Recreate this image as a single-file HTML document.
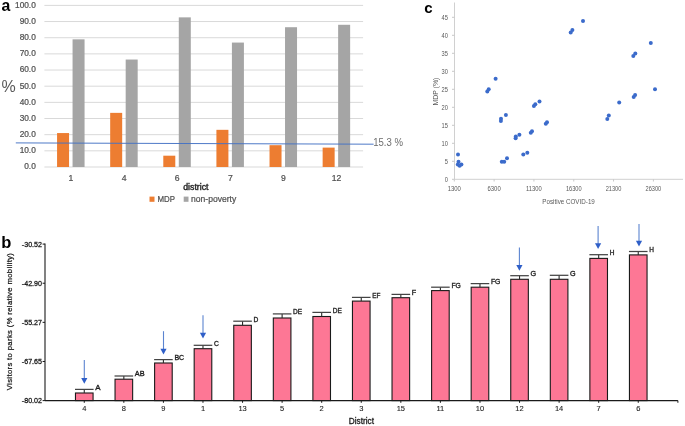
<!DOCTYPE html>
<html><head><meta charset="utf-8"><style>
html,body{margin:0;padding:0;background:#fff;width:685px;height:426px;overflow:hidden}
svg{display:block;font-family:"Liberation Sans", sans-serif;filter:blur(0.35px)}
</style></head><body>
<svg width="685" height="426" viewBox="0 0 685 426">
<rect width="685" height="426" fill="#fff"/>
<line x1="44.4" y1="167.00" x2="363.1" y2="167.00" stroke="#d9d9d9" stroke-width="1"/>
<line x1="44.4" y1="150.84" x2="363.1" y2="150.84" stroke="#d9d9d9" stroke-width="1"/>
<line x1="44.4" y1="134.68" x2="363.1" y2="134.68" stroke="#d9d9d9" stroke-width="1"/>
<line x1="44.4" y1="118.52" x2="363.1" y2="118.52" stroke="#d9d9d9" stroke-width="1"/>
<line x1="44.4" y1="102.36" x2="363.1" y2="102.36" stroke="#d9d9d9" stroke-width="1"/>
<line x1="44.4" y1="86.20" x2="363.1" y2="86.20" stroke="#d9d9d9" stroke-width="1"/>
<line x1="44.4" y1="70.04" x2="363.1" y2="70.04" stroke="#d9d9d9" stroke-width="1"/>
<line x1="44.4" y1="53.88" x2="363.1" y2="53.88" stroke="#d9d9d9" stroke-width="1"/>
<line x1="44.4" y1="37.72" x2="363.1" y2="37.72" stroke="#d9d9d9" stroke-width="1"/>
<line x1="44.4" y1="21.56" x2="363.1" y2="21.56" stroke="#d9d9d9" stroke-width="1"/>
<line x1="44.4" y1="5.40" x2="363.1" y2="5.40" stroke="#d9d9d9" stroke-width="1"/>
<text x="35.80" y="169.30" font-size="8.3" fill="#505050" text-anchor="end" font-weight="normal" stroke="#505050" stroke-width="0.22">0.0</text>
<text x="35.80" y="153.14" font-size="8.3" fill="#505050" text-anchor="end" font-weight="normal" stroke="#505050" stroke-width="0.22">10.0</text>
<text x="35.80" y="136.98" font-size="8.3" fill="#505050" text-anchor="end" font-weight="normal" stroke="#505050" stroke-width="0.22">20.0</text>
<text x="35.80" y="120.82" font-size="8.3" fill="#505050" text-anchor="end" font-weight="normal" stroke="#505050" stroke-width="0.22">30.0</text>
<text x="35.80" y="104.66" font-size="8.3" fill="#505050" text-anchor="end" font-weight="normal" stroke="#505050" stroke-width="0.22">40.0</text>
<text x="35.80" y="88.50" font-size="8.3" fill="#505050" text-anchor="end" font-weight="normal" stroke="#505050" stroke-width="0.22">50.0</text>
<text x="35.80" y="72.34" font-size="8.3" fill="#505050" text-anchor="end" font-weight="normal" stroke="#505050" stroke-width="0.22">60.0</text>
<text x="35.80" y="56.18" font-size="8.3" fill="#505050" text-anchor="end" font-weight="normal" stroke="#505050" stroke-width="0.22">70.0</text>
<text x="35.80" y="40.02" font-size="8.3" fill="#505050" text-anchor="end" font-weight="normal" stroke="#505050" stroke-width="0.22">80.0</text>
<text x="35.80" y="23.86" font-size="8.3" fill="#505050" text-anchor="end" font-weight="normal" stroke="#505050" stroke-width="0.22">90.0</text>
<text x="35.80" y="7.70" font-size="8.3" fill="#505050" text-anchor="end" font-weight="normal" stroke="#505050" stroke-width="0.22">100.0</text>
<text x="1.50" y="91.50" font-size="16" fill="#595959" text-anchor="start" font-weight="normal" >%</text>
<rect x="57.06" y="133.06" width="12" height="33.94" fill="#ed7d31"/>
<rect x="72.56" y="39.34" width="12" height="127.66" fill="#a5a5a5"/>
<text x="70.96" y="181.30" font-size="8.6" fill="#505050" text-anchor="middle" font-weight="normal" stroke="#505050" stroke-width="0.22">1</text>
<rect x="110.18" y="112.86" width="12" height="54.14" fill="#ed7d31"/>
<rect x="125.68" y="59.54" width="12" height="107.46" fill="#a5a5a5"/>
<text x="124.08" y="181.30" font-size="8.6" fill="#505050" text-anchor="middle" font-weight="normal" stroke="#505050" stroke-width="0.22">4</text>
<rect x="163.29" y="155.69" width="12" height="11.31" fill="#ed7d31"/>
<rect x="178.79" y="17.36" width="12" height="149.64" fill="#a5a5a5"/>
<text x="177.19" y="181.30" font-size="8.6" fill="#505050" text-anchor="middle" font-weight="normal" stroke="#505050" stroke-width="0.22">6</text>
<rect x="216.41" y="129.83" width="12" height="37.17" fill="#ed7d31"/>
<rect x="231.91" y="42.57" width="12" height="124.43" fill="#a5a5a5"/>
<text x="230.31" y="181.30" font-size="8.6" fill="#505050" text-anchor="middle" font-weight="normal" stroke="#505050" stroke-width="0.22">7</text>
<rect x="269.53" y="145.18" width="12" height="21.82" fill="#ed7d31"/>
<rect x="285.03" y="27.22" width="12" height="139.78" fill="#a5a5a5"/>
<text x="283.43" y="181.30" font-size="8.6" fill="#505050" text-anchor="middle" font-weight="normal" stroke="#505050" stroke-width="0.22">9</text>
<rect x="322.64" y="147.61" width="12" height="19.39" fill="#ed7d31"/>
<rect x="338.14" y="24.79" width="12" height="142.21" fill="#a5a5a5"/>
<text x="336.54" y="181.30" font-size="8.6" fill="#505050" text-anchor="middle" font-weight="normal" stroke="#505050" stroke-width="0.22">12</text>
<line x1="15.8" y1="142.9" x2="373.6" y2="144.2" stroke="#4472c4" stroke-width="0.95"/>
<text x="373.20" y="146.30" font-size="10" fill="#6d6d6d" text-anchor="start" font-weight="normal" textLength="29.8" lengthAdjust="spacingAndGlyphs" >15.3 %</text>
<text x="183.20" y="190.30" font-size="8.4" fill="#262626" text-anchor="start" font-weight="normal" textLength="25.3" lengthAdjust="spacingAndGlyphs" stroke="#262626" stroke-width="0.4">district</text>
<rect x="149.5" y="196.6" width="5" height="5.2" fill="#ed7d31"/>
<text x="157.40" y="201.90" font-size="8.2" fill="#505050" text-anchor="start" font-weight="normal" textLength="17.5" lengthAdjust="spacingAndGlyphs" stroke="#505050" stroke-width="0.22">MDP</text>
<rect x="183.7" y="196.6" width="4.8" height="5.2" fill="#a5a5a5"/>
<text x="191.00" y="201.90" font-size="8.5" fill="#505050" text-anchor="start" font-weight="normal" textLength="45.2" lengthAdjust="spacingAndGlyphs" stroke="#505050" stroke-width="0.22">non-poverty</text>
<text x="1.50" y="11.00" font-size="15.8" fill="#000" text-anchor="start" font-weight="bold" >a</text>
<line x1="454.5" y1="2.5" x2="454.5" y2="179.3" stroke="#d0d0d0" stroke-width="1"/>
<line x1="454.5" y1="179.3" x2="683" y2="179.3" stroke="#d0d0d0" stroke-width="1"/>
<line x1="452.0" y1="179.30" x2="454.5" y2="179.30" stroke="#c8c8c8" stroke-width="1"/>
<text x="448.00" y="181.70" font-size="6.6" fill="#595959" text-anchor="end" font-weight="normal" textLength="3.2" lengthAdjust="spacingAndGlyphs" >0</text>
<line x1="452.0" y1="161.30" x2="454.5" y2="161.30" stroke="#c8c8c8" stroke-width="1"/>
<text x="448.00" y="163.70" font-size="6.6" fill="#595959" text-anchor="end" font-weight="normal" textLength="3.2" lengthAdjust="spacingAndGlyphs" >5</text>
<line x1="452.0" y1="143.30" x2="454.5" y2="143.30" stroke="#c8c8c8" stroke-width="1"/>
<text x="448.00" y="145.70" font-size="6.6" fill="#595959" text-anchor="end" font-weight="normal" textLength="6.4" lengthAdjust="spacingAndGlyphs" >10</text>
<line x1="452.0" y1="125.30" x2="454.5" y2="125.30" stroke="#c8c8c8" stroke-width="1"/>
<text x="448.00" y="127.70" font-size="6.6" fill="#595959" text-anchor="end" font-weight="normal" textLength="6.4" lengthAdjust="spacingAndGlyphs" >15</text>
<line x1="452.0" y1="107.30" x2="454.5" y2="107.30" stroke="#c8c8c8" stroke-width="1"/>
<text x="448.00" y="109.70" font-size="6.6" fill="#595959" text-anchor="end" font-weight="normal" textLength="6.4" lengthAdjust="spacingAndGlyphs" >20</text>
<line x1="452.0" y1="89.30" x2="454.5" y2="89.30" stroke="#c8c8c8" stroke-width="1"/>
<text x="448.00" y="91.70" font-size="6.6" fill="#595959" text-anchor="end" font-weight="normal" textLength="6.4" lengthAdjust="spacingAndGlyphs" >25</text>
<line x1="452.0" y1="71.30" x2="454.5" y2="71.30" stroke="#c8c8c8" stroke-width="1"/>
<text x="448.00" y="73.70" font-size="6.6" fill="#595959" text-anchor="end" font-weight="normal" textLength="6.4" lengthAdjust="spacingAndGlyphs" >30</text>
<line x1="452.0" y1="53.30" x2="454.5" y2="53.30" stroke="#c8c8c8" stroke-width="1"/>
<text x="448.00" y="55.70" font-size="6.6" fill="#595959" text-anchor="end" font-weight="normal" textLength="6.4" lengthAdjust="spacingAndGlyphs" >35</text>
<line x1="452.0" y1="35.30" x2="454.5" y2="35.30" stroke="#c8c8c8" stroke-width="1"/>
<text x="448.00" y="37.70" font-size="6.6" fill="#595959" text-anchor="end" font-weight="normal" textLength="6.4" lengthAdjust="spacingAndGlyphs" >40</text>
<line x1="452.0" y1="17.30" x2="454.5" y2="17.30" stroke="#c8c8c8" stroke-width="1"/>
<text x="448.00" y="19.70" font-size="6.6" fill="#595959" text-anchor="end" font-weight="normal" textLength="6.4" lengthAdjust="spacingAndGlyphs" >45</text>
<line x1="454.30" y1="179.3" x2="454.30" y2="181.5" stroke="#c8c8c8" stroke-width="1"/>
<text x="454.30" y="191.20" font-size="6.8" fill="#595959" text-anchor="middle" font-weight="normal" textLength="13.2" lengthAdjust="spacingAndGlyphs" >1300</text>
<line x1="494.12" y1="179.3" x2="494.12" y2="181.5" stroke="#c8c8c8" stroke-width="1"/>
<text x="494.12" y="191.20" font-size="6.8" fill="#595959" text-anchor="middle" font-weight="normal" textLength="13.2" lengthAdjust="spacingAndGlyphs" >6300</text>
<line x1="533.93" y1="179.3" x2="533.93" y2="181.5" stroke="#c8c8c8" stroke-width="1"/>
<text x="533.93" y="191.20" font-size="6.8" fill="#595959" text-anchor="middle" font-weight="normal" textLength="15.7" lengthAdjust="spacingAndGlyphs" >11300</text>
<line x1="573.75" y1="179.3" x2="573.75" y2="181.5" stroke="#c8c8c8" stroke-width="1"/>
<text x="573.75" y="191.20" font-size="6.8" fill="#595959" text-anchor="middle" font-weight="normal" textLength="15.7" lengthAdjust="spacingAndGlyphs" >16300</text>
<line x1="613.56" y1="179.3" x2="613.56" y2="181.5" stroke="#c8c8c8" stroke-width="1"/>
<text x="613.56" y="191.20" font-size="6.8" fill="#595959" text-anchor="middle" font-weight="normal" textLength="15.7" lengthAdjust="spacingAndGlyphs" >21300</text>
<line x1="653.38" y1="179.3" x2="653.38" y2="181.5" stroke="#c8c8c8" stroke-width="1"/>
<text x="653.38" y="191.20" font-size="6.8" fill="#595959" text-anchor="middle" font-weight="normal" textLength="15.7" lengthAdjust="spacingAndGlyphs" >26300</text>
<text x="568.60" y="204.00" font-size="7.1" fill="#595959" text-anchor="middle" font-weight="normal" textLength="52.5" lengthAdjust="spacingAndGlyphs" >Positive COVID-19</text>
<text x="0" y="0" font-size="7" fill="#595959" text-anchor="middle" textLength="28" lengthAdjust="spacingAndGlyphs" transform="translate(438.4 91.6) rotate(-90)">MDP (%)</text>
<circle cx="458.0" cy="154.6" r="2.0" fill="#3b6bcb"/>
<circle cx="458.5" cy="161.7" r="2.0" fill="#3b6bcb"/>
<circle cx="457.8" cy="164.5" r="2.0" fill="#3b6bcb"/>
<circle cx="461.4" cy="164.5" r="2.0" fill="#3b6bcb"/>
<circle cx="459.6" cy="165.8" r="2.0" fill="#3b6bcb"/>
<circle cx="501.8" cy="161.7" r="2.0" fill="#3b6bcb"/>
<circle cx="504.2" cy="161.7" r="2.0" fill="#3b6bcb"/>
<circle cx="507" cy="158.3" r="2.0" fill="#3b6bcb"/>
<circle cx="501" cy="118.8" r="2.0" fill="#3b6bcb"/>
<circle cx="500.9" cy="120.9" r="2.0" fill="#3b6bcb"/>
<circle cx="505.9" cy="114.9" r="2.0" fill="#3b6bcb"/>
<circle cx="487.3" cy="91.4" r="2.0" fill="#3b6bcb"/>
<circle cx="488.7" cy="89.3" r="2.0" fill="#3b6bcb"/>
<circle cx="495.6" cy="78.7" r="2.0" fill="#3b6bcb"/>
<circle cx="515.6" cy="138.3" r="2.0" fill="#3b6bcb"/>
<circle cx="515.8" cy="136.6" r="2.0" fill="#3b6bcb"/>
<circle cx="519.4" cy="134.8" r="2.0" fill="#3b6bcb"/>
<circle cx="523.3" cy="154.6" r="2.0" fill="#3b6bcb"/>
<circle cx="527.3" cy="152.8" r="2.0" fill="#3b6bcb"/>
<circle cx="530.8" cy="132.7" r="2.0" fill="#3b6bcb"/>
<circle cx="532" cy="131.3" r="2.0" fill="#3b6bcb"/>
<circle cx="545.8" cy="123.7" r="2.0" fill="#3b6bcb"/>
<circle cx="547" cy="122.3" r="2.0" fill="#3b6bcb"/>
<circle cx="533.9" cy="105.9" r="2.0" fill="#3b6bcb"/>
<circle cx="535.3" cy="104.2" r="2.0" fill="#3b6bcb"/>
<circle cx="539.5" cy="101.4" r="2.0" fill="#3b6bcb"/>
<circle cx="570.7" cy="32.4" r="2.0" fill="#3b6bcb"/>
<circle cx="572.4" cy="30.0" r="2.0" fill="#3b6bcb"/>
<circle cx="583" cy="21" r="2.0" fill="#3b6bcb"/>
<circle cx="607.3" cy="118.9" r="2.0" fill="#3b6bcb"/>
<circle cx="608.8" cy="115.6" r="2.0" fill="#3b6bcb"/>
<circle cx="619.2" cy="102.5" r="2.0" fill="#3b6bcb"/>
<circle cx="633.7" cy="97.1" r="2.0" fill="#3b6bcb"/>
<circle cx="635.1" cy="95.1" r="2.0" fill="#3b6bcb"/>
<circle cx="633.3" cy="56.0" r="2.0" fill="#3b6bcb"/>
<circle cx="635.3" cy="53.4" r="2.0" fill="#3b6bcb"/>
<circle cx="650.8" cy="43" r="2.0" fill="#3b6bcb"/>
<circle cx="655" cy="89.3" r="2.0" fill="#3b6bcb"/>
<text x="424.30" y="12.80" font-size="15" fill="#000" text-anchor="start" font-weight="bold" >c</text>
<rect x="75.47" y="393.00" width="17.6" height="7.60" fill="#fd7795" stroke="#1a1a1a" stroke-width="1.1"/>
<line x1="84.27" y1="389.40" x2="84.27" y2="393.00" stroke="#2a2a2a" stroke-width="1.1"/>
<line x1="74.97" y1="389.40" x2="93.57" y2="389.40" stroke="#444" stroke-width="1.25"/>
<line x1="84.27" y1="400.6" x2="84.27" y2="402.8" stroke="#1a1a1a" stroke-width="1"/>
<text x="84.27" y="411.40" font-size="7.5" fill="#222" text-anchor="middle" font-weight="normal" stroke="#222" stroke-width="0.1">4</text>
<text x="95.27" y="389.75" font-size="6.6" fill="#1a1a1a" text-anchor="start" font-weight="normal" textLength="5.3" lengthAdjust="spacingAndGlyphs" stroke="#1a1a1a" stroke-width="0.3">A</text>
<line x1="84.30" y1="359.90" x2="84.30" y2="379.70" stroke="#5b84d0" stroke-width="1.1"/>
<path d="M81.20 377.90 L87.40 377.90 L84.30 383.70 Z" fill="#2f5fc8"/>
<rect x="115.04" y="379.20" width="17.6" height="21.40" fill="#fd7795" stroke="#1a1a1a" stroke-width="1.1"/>
<line x1="123.84" y1="376.00" x2="123.84" y2="379.20" stroke="#2a2a2a" stroke-width="1.1"/>
<line x1="114.54" y1="376.00" x2="133.14" y2="376.00" stroke="#444" stroke-width="1.25"/>
<line x1="123.84" y1="400.6" x2="123.84" y2="402.8" stroke="#1a1a1a" stroke-width="1"/>
<text x="123.84" y="411.40" font-size="7.5" fill="#222" text-anchor="middle" font-weight="normal" stroke="#222" stroke-width="0.1">8</text>
<text x="134.84" y="376.35" font-size="6.6" fill="#1a1a1a" text-anchor="start" font-weight="normal" textLength="9.8" lengthAdjust="spacingAndGlyphs" stroke="#1a1a1a" stroke-width="0.3">AB</text>
<rect x="154.61" y="363.00" width="17.6" height="37.60" fill="#fd7795" stroke="#1a1a1a" stroke-width="1.1"/>
<line x1="163.41" y1="359.60" x2="163.41" y2="363.00" stroke="#2a2a2a" stroke-width="1.1"/>
<line x1="154.11" y1="359.60" x2="172.71" y2="359.60" stroke="#444" stroke-width="1.25"/>
<line x1="163.41" y1="400.6" x2="163.41" y2="402.8" stroke="#1a1a1a" stroke-width="1"/>
<text x="163.41" y="411.40" font-size="7.5" fill="#222" text-anchor="middle" font-weight="normal" stroke="#222" stroke-width="0.1">9</text>
<text x="174.41" y="359.95" font-size="6.6" fill="#1a1a1a" text-anchor="start" font-weight="normal" textLength="9.8" lengthAdjust="spacingAndGlyphs" stroke="#1a1a1a" stroke-width="0.3">BC</text>
<line x1="163.50" y1="331.20" x2="163.50" y2="350.60" stroke="#5b84d0" stroke-width="1.1"/>
<path d="M160.40 348.80 L166.60 348.80 L163.50 354.60 Z" fill="#2f5fc8"/>
<rect x="194.18" y="348.70" width="17.6" height="51.90" fill="#fd7795" stroke="#1a1a1a" stroke-width="1.1"/>
<line x1="202.98" y1="345.30" x2="202.98" y2="348.70" stroke="#2a2a2a" stroke-width="1.1"/>
<line x1="193.68" y1="345.30" x2="212.28" y2="345.30" stroke="#444" stroke-width="1.25"/>
<line x1="202.98" y1="400.6" x2="202.98" y2="402.8" stroke="#1a1a1a" stroke-width="1"/>
<text x="202.98" y="411.40" font-size="7.5" fill="#222" text-anchor="middle" font-weight="normal" stroke="#222" stroke-width="0.1">1</text>
<text x="213.98" y="345.65" font-size="6.6" fill="#1a1a1a" text-anchor="start" font-weight="normal" textLength="4.9" lengthAdjust="spacingAndGlyphs" stroke="#1a1a1a" stroke-width="0.3">C</text>
<line x1="203.00" y1="315.20" x2="203.00" y2="334.60" stroke="#5b84d0" stroke-width="1.1"/>
<path d="M199.90 332.80 L206.10 332.80 L203.00 338.60 Z" fill="#2f5fc8"/>
<rect x="233.75" y="325.30" width="17.6" height="75.30" fill="#fd7795" stroke="#1a1a1a" stroke-width="1.1"/>
<line x1="242.55" y1="321.20" x2="242.55" y2="325.30" stroke="#2a2a2a" stroke-width="1.1"/>
<line x1="233.25" y1="321.20" x2="251.85" y2="321.20" stroke="#444" stroke-width="1.25"/>
<line x1="242.55" y1="400.6" x2="242.55" y2="402.8" stroke="#1a1a1a" stroke-width="1"/>
<text x="242.55" y="411.40" font-size="7.5" fill="#222" text-anchor="middle" font-weight="normal" stroke="#222" stroke-width="0.1">13</text>
<text x="253.55" y="321.55" font-size="6.6" fill="#1a1a1a" text-anchor="start" font-weight="normal" textLength="4.8" lengthAdjust="spacingAndGlyphs" stroke="#1a1a1a" stroke-width="0.3">D</text>
<rect x="273.32" y="318.00" width="17.6" height="82.60" fill="#fd7795" stroke="#1a1a1a" stroke-width="1.1"/>
<line x1="282.12" y1="313.90" x2="282.12" y2="318.00" stroke="#2a2a2a" stroke-width="1.1"/>
<line x1="272.82" y1="313.90" x2="291.42" y2="313.90" stroke="#444" stroke-width="1.25"/>
<line x1="282.12" y1="400.6" x2="282.12" y2="402.8" stroke="#1a1a1a" stroke-width="1"/>
<text x="282.12" y="411.40" font-size="7.5" fill="#222" text-anchor="middle" font-weight="normal" stroke="#222" stroke-width="0.1">5</text>
<text x="293.12" y="314.25" font-size="6.6" fill="#1a1a1a" text-anchor="start" font-weight="normal" textLength="9.1" lengthAdjust="spacingAndGlyphs" stroke="#1a1a1a" stroke-width="0.3">DE</text>
<rect x="312.89" y="316.50" width="17.6" height="84.10" fill="#fd7795" stroke="#1a1a1a" stroke-width="1.1"/>
<line x1="321.69" y1="312.40" x2="321.69" y2="316.50" stroke="#2a2a2a" stroke-width="1.1"/>
<line x1="312.39" y1="312.40" x2="330.99" y2="312.40" stroke="#444" stroke-width="1.25"/>
<line x1="321.69" y1="400.6" x2="321.69" y2="402.8" stroke="#1a1a1a" stroke-width="1"/>
<text x="321.69" y="411.40" font-size="7.5" fill="#222" text-anchor="middle" font-weight="normal" stroke="#222" stroke-width="0.1">2</text>
<text x="332.69" y="312.75" font-size="6.6" fill="#1a1a1a" text-anchor="start" font-weight="normal" textLength="9.1" lengthAdjust="spacingAndGlyphs" stroke="#1a1a1a" stroke-width="0.3">DE</text>
<rect x="352.46" y="301.10" width="17.6" height="99.50" fill="#fd7795" stroke="#1a1a1a" stroke-width="1.1"/>
<line x1="361.26" y1="297.40" x2="361.26" y2="301.10" stroke="#2a2a2a" stroke-width="1.1"/>
<line x1="351.96" y1="297.40" x2="370.56" y2="297.40" stroke="#444" stroke-width="1.25"/>
<line x1="361.26" y1="400.6" x2="361.26" y2="402.8" stroke="#1a1a1a" stroke-width="1"/>
<text x="361.26" y="411.40" font-size="7.5" fill="#222" text-anchor="middle" font-weight="normal" stroke="#222" stroke-width="0.1">3</text>
<text x="372.26" y="297.75" font-size="6.6" fill="#1a1a1a" text-anchor="start" font-weight="normal" textLength="8.2" lengthAdjust="spacingAndGlyphs" stroke="#1a1a1a" stroke-width="0.3">EF</text>
<rect x="392.03" y="297.70" width="17.6" height="102.90" fill="#fd7795" stroke="#1a1a1a" stroke-width="1.1"/>
<line x1="400.83" y1="294.40" x2="400.83" y2="297.70" stroke="#2a2a2a" stroke-width="1.1"/>
<line x1="391.53" y1="294.40" x2="410.13" y2="294.40" stroke="#444" stroke-width="1.25"/>
<line x1="400.83" y1="400.6" x2="400.83" y2="402.8" stroke="#1a1a1a" stroke-width="1"/>
<text x="400.83" y="411.40" font-size="7.5" fill="#222" text-anchor="middle" font-weight="normal" stroke="#222" stroke-width="0.1">15</text>
<text x="411.83" y="294.75" font-size="6.6" fill="#1a1a1a" text-anchor="start" font-weight="normal" textLength="4.4" lengthAdjust="spacingAndGlyphs" stroke="#1a1a1a" stroke-width="0.3">F</text>
<rect x="431.60" y="290.60" width="17.6" height="110.00" fill="#fd7795" stroke="#1a1a1a" stroke-width="1.1"/>
<line x1="440.40" y1="287.20" x2="440.40" y2="290.60" stroke="#2a2a2a" stroke-width="1.1"/>
<line x1="431.10" y1="287.20" x2="449.70" y2="287.20" stroke="#444" stroke-width="1.25"/>
<line x1="440.40" y1="400.6" x2="440.40" y2="402.8" stroke="#1a1a1a" stroke-width="1"/>
<text x="440.40" y="411.40" font-size="7.5" fill="#222" text-anchor="middle" font-weight="normal" stroke="#222" stroke-width="0.1">11</text>
<text x="451.40" y="287.55" font-size="6.6" fill="#1a1a1a" text-anchor="start" font-weight="normal" textLength="9.4" lengthAdjust="spacingAndGlyphs" stroke="#1a1a1a" stroke-width="0.3">FG</text>
<rect x="471.17" y="287.20" width="17.6" height="113.40" fill="#fd7795" stroke="#1a1a1a" stroke-width="1.1"/>
<line x1="479.97" y1="283.60" x2="479.97" y2="287.20" stroke="#2a2a2a" stroke-width="1.1"/>
<line x1="470.67" y1="283.60" x2="489.27" y2="283.60" stroke="#444" stroke-width="1.25"/>
<line x1="479.97" y1="400.6" x2="479.97" y2="402.8" stroke="#1a1a1a" stroke-width="1"/>
<text x="479.97" y="411.40" font-size="7.5" fill="#222" text-anchor="middle" font-weight="normal" stroke="#222" stroke-width="0.1">10</text>
<text x="490.97" y="283.95" font-size="6.6" fill="#1a1a1a" text-anchor="start" font-weight="normal" textLength="9.4" lengthAdjust="spacingAndGlyphs" stroke="#1a1a1a" stroke-width="0.3">FG</text>
<rect x="510.74" y="279.30" width="17.6" height="121.30" fill="#fd7795" stroke="#1a1a1a" stroke-width="1.1"/>
<line x1="519.54" y1="275.70" x2="519.54" y2="279.30" stroke="#2a2a2a" stroke-width="1.1"/>
<line x1="510.24" y1="275.70" x2="528.84" y2="275.70" stroke="#444" stroke-width="1.25"/>
<line x1="519.54" y1="400.6" x2="519.54" y2="402.8" stroke="#1a1a1a" stroke-width="1"/>
<text x="519.54" y="411.40" font-size="7.5" fill="#222" text-anchor="middle" font-weight="normal" stroke="#222" stroke-width="0.1">12</text>
<text x="530.54" y="276.05" font-size="6.6" fill="#1a1a1a" text-anchor="start" font-weight="normal" textLength="5.6" lengthAdjust="spacingAndGlyphs" stroke="#1a1a1a" stroke-width="0.3">G</text>
<line x1="519.40" y1="247.40" x2="519.40" y2="266.70" stroke="#5b84d0" stroke-width="1.1"/>
<path d="M516.30 264.90 L522.50 264.90 L519.40 270.70 Z" fill="#2f5fc8"/>
<rect x="550.31" y="279.30" width="17.6" height="121.30" fill="#fd7795" stroke="#1a1a1a" stroke-width="1.1"/>
<line x1="559.11" y1="275.30" x2="559.11" y2="279.30" stroke="#2a2a2a" stroke-width="1.1"/>
<line x1="549.81" y1="275.30" x2="568.41" y2="275.30" stroke="#444" stroke-width="1.25"/>
<line x1="559.11" y1="400.6" x2="559.11" y2="402.8" stroke="#1a1a1a" stroke-width="1"/>
<text x="559.11" y="411.40" font-size="7.5" fill="#222" text-anchor="middle" font-weight="normal" stroke="#222" stroke-width="0.1">14</text>
<text x="570.11" y="275.65" font-size="6.6" fill="#1a1a1a" text-anchor="start" font-weight="normal" textLength="5.6" lengthAdjust="spacingAndGlyphs" stroke="#1a1a1a" stroke-width="0.3">G</text>
<rect x="589.88" y="258.40" width="17.6" height="142.20" fill="#fd7795" stroke="#1a1a1a" stroke-width="1.1"/>
<line x1="598.68" y1="254.70" x2="598.68" y2="258.40" stroke="#2a2a2a" stroke-width="1.1"/>
<line x1="589.38" y1="254.70" x2="607.98" y2="254.70" stroke="#444" stroke-width="1.25"/>
<line x1="598.68" y1="400.6" x2="598.68" y2="402.8" stroke="#1a1a1a" stroke-width="1"/>
<text x="598.68" y="411.40" font-size="7.5" fill="#222" text-anchor="middle" font-weight="normal" stroke="#222" stroke-width="0.1">7</text>
<text x="609.68" y="255.05" font-size="6.6" fill="#1a1a1a" text-anchor="start" font-weight="normal" textLength="4.7" lengthAdjust="spacingAndGlyphs" stroke="#1a1a1a" stroke-width="0.3">H</text>
<line x1="598.10" y1="226.00" x2="598.10" y2="245.00" stroke="#5b84d0" stroke-width="1.1"/>
<path d="M595.00 243.20 L601.20 243.20 L598.10 249.00 Z" fill="#2f5fc8"/>
<rect x="629.45" y="254.90" width="17.6" height="145.70" fill="#fd7795" stroke="#1a1a1a" stroke-width="1.1"/>
<line x1="638.25" y1="251.50" x2="638.25" y2="254.90" stroke="#2a2a2a" stroke-width="1.1"/>
<line x1="628.95" y1="251.50" x2="647.55" y2="251.50" stroke="#444" stroke-width="1.25"/>
<line x1="638.25" y1="400.6" x2="638.25" y2="402.8" stroke="#1a1a1a" stroke-width="1"/>
<text x="638.25" y="411.40" font-size="7.5" fill="#222" text-anchor="middle" font-weight="normal" stroke="#222" stroke-width="0.1">6</text>
<text x="649.25" y="251.85" font-size="6.6" fill="#1a1a1a" text-anchor="start" font-weight="normal" textLength="4.7" lengthAdjust="spacingAndGlyphs" stroke="#1a1a1a" stroke-width="0.3">H</text>
<line x1="639.00" y1="223.90" x2="639.00" y2="242.50" stroke="#5b84d0" stroke-width="1.1"/>
<path d="M635.90 240.70 L642.10 240.70 L639.00 246.50 Z" fill="#2f5fc8"/>
<line x1="45.0" y1="243.4" x2="45.0" y2="400.6" stroke="#1a1a1a" stroke-width="1.1"/>
<line x1="45.0" y1="400.6" x2="677.9" y2="400.6" stroke="#1a1a1a" stroke-width="1.1"/>
<line x1="677.9" y1="400.6" x2="677.9" y2="402.8" stroke="#1a1a1a" stroke-width="1"/>
<line x1="42.6" y1="244.10" x2="45.0" y2="244.10" stroke="#1a1a1a" stroke-width="1"/>
<text x="42.00" y="246.90" font-size="7.9" fill="#1a1a1a" text-anchor="end" font-weight="normal" textLength="20.2" lengthAdjust="spacingAndGlyphs" stroke="#1a1a1a" stroke-width="0.3">-30.52</text>
<line x1="42.6" y1="283.24" x2="45.0" y2="283.24" stroke="#1a1a1a" stroke-width="1"/>
<text x="42.00" y="286.04" font-size="7.9" fill="#1a1a1a" text-anchor="end" font-weight="normal" textLength="20.2" lengthAdjust="spacingAndGlyphs" stroke="#1a1a1a" stroke-width="0.3">-42.90</text>
<line x1="42.6" y1="322.35" x2="45.0" y2="322.35" stroke="#1a1a1a" stroke-width="1"/>
<text x="42.00" y="325.15" font-size="7.9" fill="#1a1a1a" text-anchor="end" font-weight="normal" textLength="20.2" lengthAdjust="spacingAndGlyphs" stroke="#1a1a1a" stroke-width="0.3">-55.27</text>
<line x1="42.6" y1="361.49" x2="45.0" y2="361.49" stroke="#1a1a1a" stroke-width="1"/>
<text x="42.00" y="364.29" font-size="7.9" fill="#1a1a1a" text-anchor="end" font-weight="normal" textLength="20.2" lengthAdjust="spacingAndGlyphs" stroke="#1a1a1a" stroke-width="0.3">-67.65</text>
<line x1="42.6" y1="400.60" x2="45.0" y2="400.60" stroke="#1a1a1a" stroke-width="1"/>
<text x="42.00" y="403.40" font-size="7.9" fill="#1a1a1a" text-anchor="end" font-weight="normal" textLength="20.2" lengthAdjust="spacingAndGlyphs" stroke="#1a1a1a" stroke-width="0.3">-80.02</text>
<text x="361.40" y="423.60" font-size="8.6" fill="#1a1a1a" text-anchor="middle" font-weight="normal" textLength="25.2" lengthAdjust="spacingAndGlyphs" stroke="#1a1a1a" stroke-width="0.3">District</text>
<text x="0" y="0" font-size="7.7" font-weight="normal" fill="#1a1a1a" stroke="#1a1a1a" stroke-width="0.25" text-anchor="middle" textLength="137.2" lengthAdjust="spacing" transform="translate(11.8 321.7) rotate(-90)">Visitors to parks (% relative mobility)</text>
<text x="1.20" y="247.60" font-size="16.5" fill="#000" text-anchor="start" font-weight="bold" >b</text>
</svg>
</body></html>
